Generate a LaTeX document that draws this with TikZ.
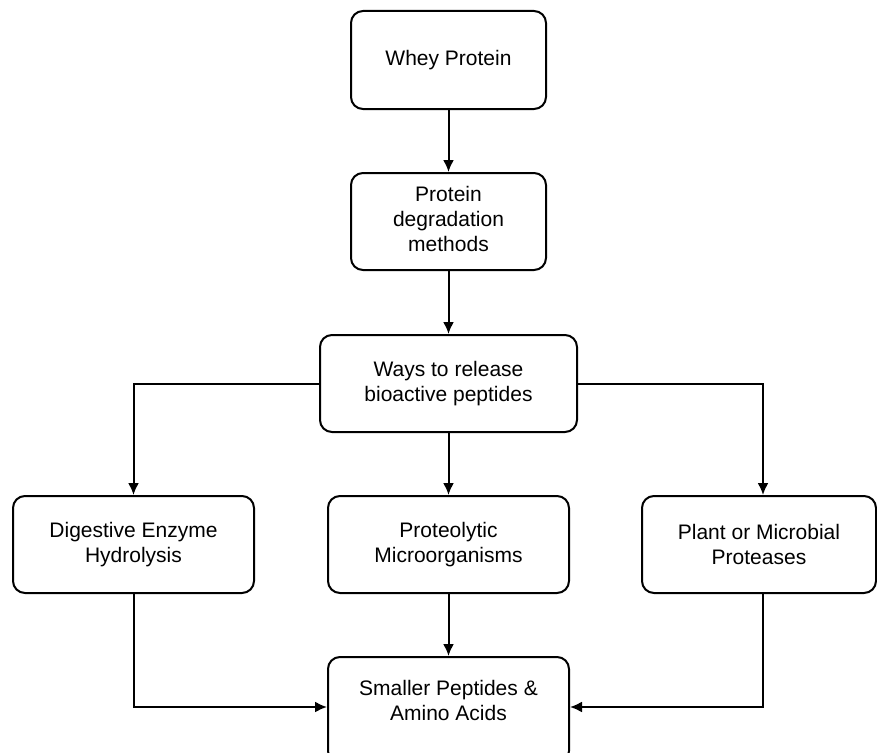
\documentclass[tikz,border=0pt]{standalone}
\usepackage{fontspec}
\setmainfont{Liberation Sans}
\usepackage{tikz}
\usetikzlibrary{arrows.meta}
\usetikzlibrary{positioning}

\begin{document}
\begin{tikzpicture}[x=1pt,y=-1pt,
  box/.style={draw,line width=2pt,rounded corners=12pt,align=center,inner sep=0pt,
    font=\fontsize{21}{25}\selectfont,minimum height=97pt},
  arr/.style={line width=2pt,-{Latex[length=12pt,width=11pt]}}]
  \useasboundingbox (0,0) rectangle (877,752);
  \node[box,minimum width=195pt,minimum height=98pt] (whey) at (448.5,60){Whey Protein};
  \node[box,minimum width=195pt] (degr) at (448.5,221.5){\begin{tabular}{@{}c@{}}Protein\\degradation\\methods\end{tabular}};
  \node[box,minimum width=257pt] (ways) at (448.5,383.5){Ways to release\\bioactive peptides};
  \node[box,minimum width=241pt] (dig) at (133.5,544.5){Digestive Enzyme\\Hydrolysis};
  \node[box,minimum width=241pt] (prot) at (448.5,544.5){Proteolytic\\Microorganisms};
  \node[box,minimum width=234pt] (plant) at (759,544.5){Plant or Microbial\\Proteases};
  \node[box,minimum width=241pt,minimum height=106pt] (small) at (448.5,710){\raisebox{0pt}[23pt][27pt]{\begin{tabular}{@{}c@{}}Smaller Peptides \&\\Amino Acids\end{tabular}}};
  \draw[arr](whey)--(degr);
  \draw[arr](degr)--(ways);
  \draw[arr](ways)--(prot);
  \draw[arr](prot)--(small);
  \draw[arr](ways.west)-|(dig.north);
  \draw[arr](ways.east)-|([xshift=4pt]plant.north);
  \draw[arr](dig.south)|-([yshift=3pt]small.west);
  \draw[arr]([xshift=4pt]plant.south)|-([yshift=3pt]small.east);
\end{tikzpicture}
\end{document}
